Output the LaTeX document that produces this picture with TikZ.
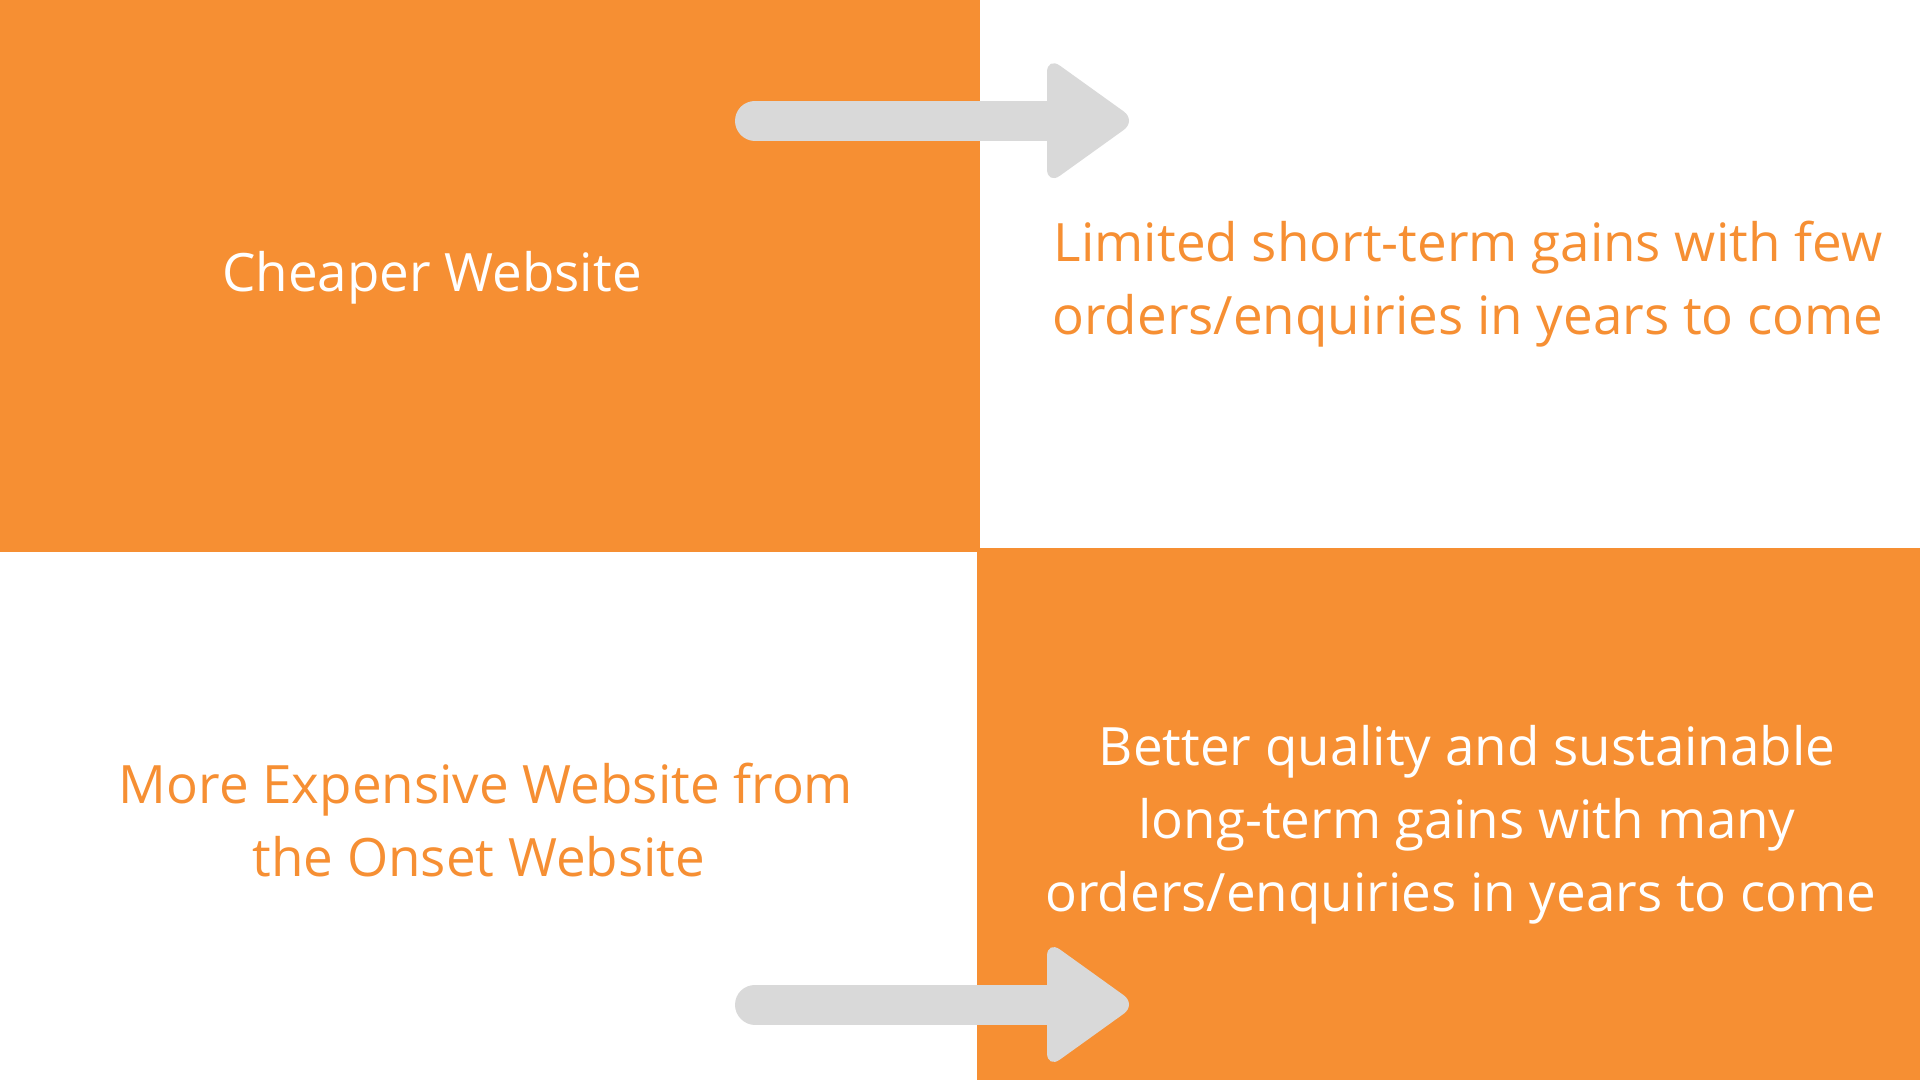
\documentclass[tikz,border=0pt]{standalone}
\usepackage{fontspec}
\setmainfont{Open Sans}
\definecolor{brand}{HTML}{F68F33}
\definecolor{arrowgray}{HTML}{D9D9D9}
\tikzset{
  lbl/.style={inner sep=0pt, anchor=base, font=\fontsize{26.45pt}{36pt}\selectfont},
  onorange/.style={lbl, text=white},
  onwhite/.style={lbl, text=brand},
  shaft/.style={draw=arrowgray, line width=20pt, line cap=round},
  head/.style={fill=arrowgray, rounded corners=8pt},
  panel/.style={fill=brand}
}
\begin{document}
\begin{tikzpicture}[x=0.5pt,y=-0.5pt]
\useasboundingbox (0,0) rectangle (1920,1080);
% orange panels
\fill[panel] (0,0) rectangle (980,551.5);
\fill[panel] (977,547.5) rectangle (1920,1080);
% texts
\node[onorange] (cheap) at (432,291.7) {Cheaper Website};
\node[onwhite] (lim1) at (1468,261.7) {Limited short-term gains with few};
\node[onwhite] (lim2) at (1468,334.3) {orders/enquiries in years to come};
\node[onwhite] (exp1) at (486,803.3) {More Expensive Website from};
\node[onwhite] (exp2) at (479,876) {the Onset Website};
\node[onorange] (bet1) at (1467,765.7) {Better quality and sustainable};
\node[onorange] (bet2) at (1467,838.3) {long-term gains with many};
\node[onorange] (bet3) at (1461,911.7) {orders/enquiries in years to come};
% arrows
\coordinate (a1s) at (755,120.7);
\coordinate (a1h) at (1047,120.7);
\draw[shaft] (a1s) -- (a1h);
\path[head] ([shift={(0,-64.3)}]a1h) -- ([shift={(89.6,0)}]a1h) -- ([shift={(0,64.3)}]a1h) -- cycle;
\coordinate (a2s) at (755,1004.5);
\coordinate (a2h) at (1047,1004.5);
\draw[shaft] (a2s) -- (a2h);
\path[head] ([shift={(0,-64.3)}]a2h) -- ([shift={(89.6,0)}]a2h) -- ([shift={(0,64.3)}]a2h) -- cycle;
\end{tikzpicture}
\end{document}
